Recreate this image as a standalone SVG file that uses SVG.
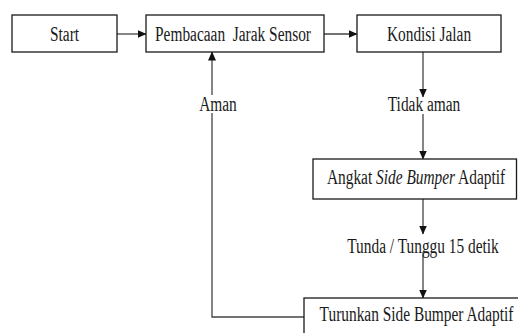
<svg xmlns="http://www.w3.org/2000/svg" width="518" height="333" viewBox="0 0 518 333">
<style>
.box{fill:#fff;stroke:#1a1a1a;stroke-width:1.3}
.ln{fill:none;stroke:#444;stroke-width:1.3}
.t{font-family:'Liberation Serif','Times New Roman',serif;font-size:20px;fill:#1a1a1a;text-anchor:middle}
</style>
<defs>
<marker id="ah" markerWidth="9" markerHeight="8" refX="8.5" refY="4" orient="auto" markerUnits="userSpaceOnUse">
<path d="M0,0 L9,4 L0,8 z" fill="#111"/>
</marker>
</defs>
<rect width="518" height="333" fill="#fff"/>
<g id="connectors">
<line class="ln" x1="117" y1="34" x2="146" y2="34" marker-end="url(#ah)"/>
<line class="ln" x1="324" y1="34" x2="357" y2="34" marker-end="url(#ah)"/>
<line class="ln" x1="423" y1="52" x2="423" y2="97" marker-end="url(#ah)"/>
<line class="ln" x1="423" y1="114" x2="423" y2="159" marker-end="url(#ah)"/>
<line class="ln" x1="423" y1="199" x2="423" y2="234" marker-end="url(#ah)"/>
<line class="ln" x1="423" y1="252" x2="423" y2="298" marker-end="url(#ah)"/>
<polyline class="ln" points="304,317 212,317 212,113"/>
<line class="ln" x1="212" y1="95" x2="212" y2="52" marker-end="url(#ah)"/>
<text class="t" transform="translate(424,110.5) scale(0.77,1)">Tidak aman</text>
<text class="t" transform="translate(218,110.5) scale(0.77,1)">Aman</text>
<text class="t" transform="translate(423,252.5) scale(0.77,1)">Tunda / Tunggu 15 detik</text>
</g>
<g id="start">
<rect class="box" x="12" y="15" width="105" height="37"/>
<text class="t" transform="translate(64.5,40.5) scale(0.77,1)">Start</text>
</g>
<g id="pembacaan">
<rect class="box" x="146" y="15" width="178" height="37"/>
<text class="t" transform="translate(233,40.5) scale(0.77,1)" xml:space="preserve">Pembacaan  Jarak Sensor</text>
</g>
<g id="kondisi">
<rect class="box" x="357" y="15" width="144" height="37"/>
<text class="t" transform="translate(429,40.5) scale(0.77,1)">Kondisi Jalan</text>
</g>
<g id="angkat">
<rect class="box" x="313" y="159" width="203.5" height="40"/>
<text class="t" transform="translate(416,184) scale(0.77,1)">Angkat <tspan font-style="italic">Side Bumper</tspan> Adaptif</text>
</g>
<g id="turunkan">
<rect class="box" x="304" y="298" width="230" height="45"/>
<text class="t" transform="translate(416.5,321) scale(0.77,1)">Turunkan Side Bumper Adaptif</text>
</g>
</svg>
